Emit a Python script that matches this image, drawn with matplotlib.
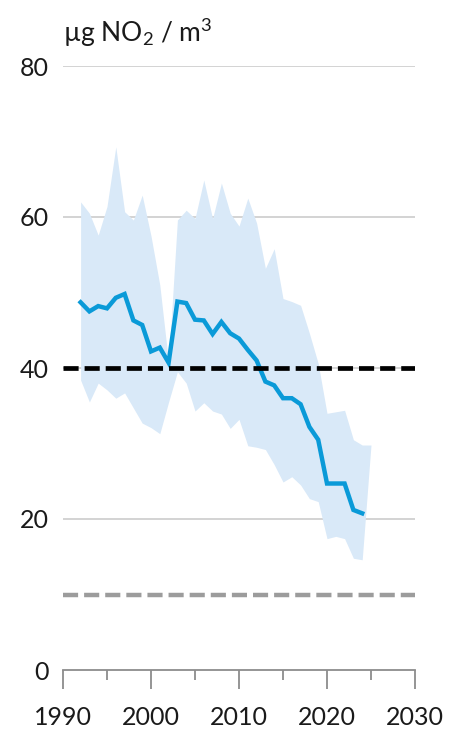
import matplotlib
matplotlib.use("Agg")
import matplotlib.pyplot as plt
from matplotlib.ticker import MultipleLocator

plt.rcParams['font.family'] = ['Lato', 'DejaVu Sans']
plt.rcParams['mathtext.fontset'] = 'custom'
plt.rcParams['mathtext.rm'] = 'Lato'
plt.rcParams['mathtext.it'] = 'Lato'

# Mean NO2 concentration (line) and spread over stations (band)
line_years = list(range(1992, 2025))
line_values = [48.7, 47.5, 48.2, 47.9, 49.3, 49.8, 46.3, 45.7, 42.2, 42.7,
               40.7, 48.8, 48.6, 46.4, 46.3, 44.5, 46.1, 44.6, 43.9, 42.4,
               41.0, 38.2, 37.7, 36.0, 36.0, 35.2, 32.2, 30.5, 24.7, 24.7,
               24.7, 21.2, 20.75]

band_years = list(range(1992, 2026))
band_upper = [62.0, 60.5, 57.6, 61.4, 69.3, 60.7, 59.6, 62.9, 57.5, 51.0,
              40.7, 59.6, 60.9, 59.8, 64.9, 59.8, 64.5, 60.5, 58.8, 62.5,
              59.2, 53.2, 55.8, 49.2, 48.8, 48.3, 44.6, 40.6, 34.0, 34.2,
              34.4, 30.5, 29.8, 29.8]
band_lower = [38.4, 35.5, 38.0, 37.1, 36.0, 36.7, 34.7, 32.7, 32.1, 31.3,
              35.5, 39.5, 38.0, 34.3, 35.4, 34.3, 33.9, 32.0, 33.2, 29.7,
              29.5, 29.2, 27.2, 24.9, 25.6, 24.5, 22.7, 22.3, 17.4, 17.7,
              17.4, 14.8, 14.6, 29.8]

eu_limit = 40
who_guideline = 10

fig = plt.figure(figsize=(4.49, 7.33), dpi=100)
ax = fig.add_axes([63 / 449, 63 / 733, 352 / 449, 604 / 733])

# grid lines behind the band
for v in [20, 40, 60, 80]:
    ax.axhline(v, color='#c8c8c8', lw=1.1, zorder=0)

ax.fill_between(band_years, band_lower, band_upper, color='#d9e9f8', lw=0, zorder=1)
ax.plot(line_years, line_values, color='#0a9ad8', lw=3.2, zorder=3,
        solid_joinstyle='miter')

ax.axhline(eu_limit, color='black', lw=3.4, dashes=(3.2, 1.27), zorder=4)
ax.axhline(who_guideline, color='#9c9c9c', lw=3.2, dashes=(3.4, 1.35), zorder=4)

ax.set_xlim(1990, 2030)
ax.set_ylim(0, 80)
ax.set_yticks([0, 20, 40, 60, 80])
ax.xaxis.set_major_locator(MultipleLocator(10))
ax.xaxis.set_minor_locator(MultipleLocator(5))

for s in ['top', 'right', 'left']:
    ax.spines[s].set_visible(False)
ax.spines['bottom'].set_color('#8c8c8c')
ax.spines['bottom'].set_linewidth(1.3)

ax.tick_params(axis='y', length=0, pad=10, labelsize=18, labelcolor='#1a1a1a')
ax.tick_params(axis='x', which='major', length=14, width=1.3, color='#8c8c8c',
               pad=12, labelsize=18, labelcolor='#1a1a1a')
ax.tick_params(axis='x', which='minor', length=7.5, width=1.3, color='#8c8c8c')

fig.text(63 / 449, 691 / 733, 'µg NO$_2$ / m$^3$', fontsize=19, color='#1a1a1a',
         ha='left', va='baseline')

fig.savefig('out.png', dpi=100)
